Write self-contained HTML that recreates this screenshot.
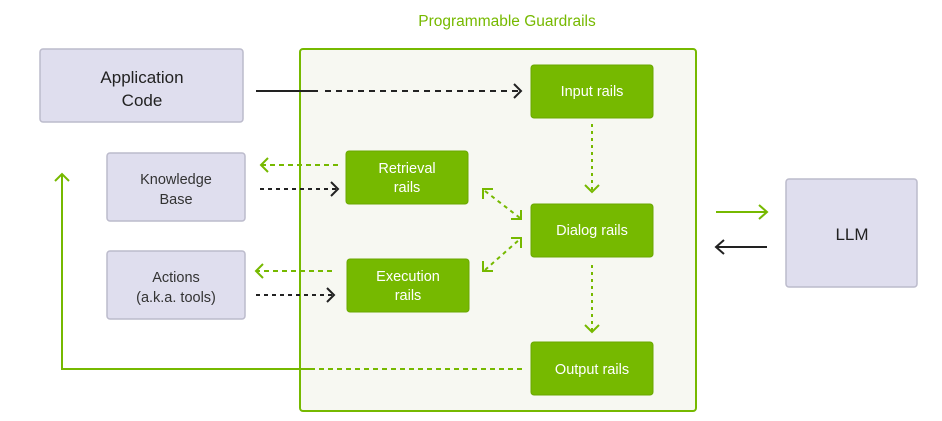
<!DOCTYPE html>
<html><head><meta charset="utf-8"><style>
html,body{margin:0;padding:0;background:#fff;}
svg{display:block;}
text{font-family:"Liberation Sans",sans-serif;}
</style></head><body>
<svg width="942" height="421" viewBox="0 0 942 421" xmlns="http://www.w3.org/2000/svg">
<text x="507" y="26" text-anchor="middle" font-size="15.5" fill="#76b900">Programmable Guardrails</text>
<rect x="300" y="49" width="396" height="362" rx="3" fill="#f7f8f2" stroke="#76b900" stroke-width="2"/>

<g fill="#dfdeee" stroke="#bcbbcc" stroke-width="1.5">
<rect x="40" y="49" width="203" height="73" rx="3"/>
<rect x="107" y="153" width="138" height="68" rx="3"/>
<rect x="107" y="251" width="138" height="68" rx="3"/>
<rect x="786" y="179" width="131" height="108" rx="3"/>
</g>
<g font-size="17" fill="#222" text-anchor="middle">
<text x="142" y="83">Application</text>
<text x="142" y="106">Code</text>
<text x="852" y="240">LLM</text>
</g>
<g font-size="14.5" fill="#333" text-anchor="middle">
<text x="176" y="184">Knowledge</text>
<text x="176" y="204">Base</text>
<text x="176" y="282">Actions</text>
<text x="176" y="302">(a.k.a. tools)</text>
</g>

<g fill="#76b900" stroke="#6aa800" stroke-width="1">
<rect x="531" y="65" width="122" height="53" rx="3"/>
<rect x="346" y="151" width="122" height="53" rx="3"/>
<rect x="531" y="204" width="122" height="53" rx="3"/>
<rect x="347" y="259" width="122" height="53" rx="3"/>
<rect x="531" y="342" width="122" height="53" rx="3"/>
</g>
<g font-size="14.5" fill="#fff" text-anchor="middle">
<text x="592" y="96">Input rails</text>
<text x="407" y="173">Retrieval</text>
<text x="407" y="192">rails</text>
<text x="592" y="235">Dialog rails</text>
<text x="408" y="281">Execution</text>
<text x="408" y="300">rails</text>
<text x="592" y="374">Output rails</text>
</g>

<g fill="none" stroke-width="2">
<line x1="256" y1="91" x2="318" y2="91" stroke="#222"/>
<line x1="325" y1="91" x2="520" y2="91" stroke="#222" stroke-dasharray="6,5"/>
<polyline points="514,84 521,91 514,98" stroke="#222"/>
<line x1="592" y1="124" x2="592" y2="190" stroke="#76b900" stroke-dasharray="3,4"/>
<polyline points="585,185 592,192 599,185" stroke="#76b900"/>
<line x1="592" y1="265" x2="592" y2="331" stroke="#76b900" stroke-dasharray="3,4"/>
<polyline points="585,325 592,332 599,325" stroke="#76b900"/>
<line x1="338" y1="165" x2="262" y2="165" stroke="#76b900" stroke-dasharray="5,4"/>
<polyline points="268,158 261,165 268,172" stroke="#76b900"/>
<line x1="260" y1="189" x2="337" y2="189" stroke="#222" stroke-dasharray="4,4"/>
<polyline points="331,182 338,189 331,196" stroke="#222"/>
<line x1="332" y1="271" x2="257" y2="271" stroke="#76b900" stroke-dasharray="5,4"/>
<polyline points="263,264 256,271 263,278" stroke="#76b900"/>
<line x1="256" y1="295" x2="333" y2="295" stroke="#222" stroke-dasharray="4,4"/>
<polyline points="327,288 334,295 327,302" stroke="#222"/>
<line x1="485" y1="191" x2="520" y2="218" stroke="#76b900" stroke-dasharray="4,4"/>
<polyline points="483,199 483,189 493,189" stroke="#76b900"/>
<polyline points="511,219 521,219 521,210" stroke="#76b900"/>
<line x1="485" y1="270" x2="520" y2="239" stroke="#76b900" stroke-dasharray="4,4"/>
<polyline points="483,261 483,271 493,271" stroke="#76b900"/>
<polyline points="511,238 521,238 521,248" stroke="#76b900"/>
<line x1="522" y1="369" x2="318" y2="369" stroke="#76b900" stroke-dasharray="5,4"/>
<polyline points="315,369 62,369 62,174" stroke="#76b900"/>
<polyline points="55,181 62,174 69,181" stroke="#76b900"/>
<line x1="716" y1="212" x2="766" y2="212" stroke="#76b900"/>
<polyline points="759,205 767,212 759,219" stroke="#76b900"/>
<line x1="767" y1="247" x2="717" y2="247" stroke="#222"/>
<polyline points="724,240 716,247 724,254" stroke="#222"/>
</g>
</svg>
</body></html>
